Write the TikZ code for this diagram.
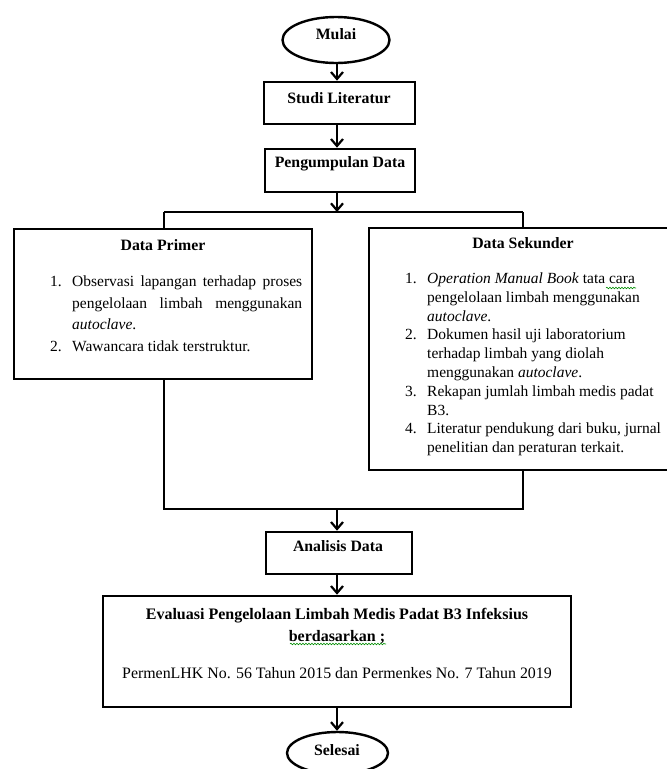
\documentclass[tikz,border=0pt]{standalone}
\usepackage{fontspec}
\setmainfont{Liberation Serif}
\usetikzlibrary{arrows.meta,shapes.geometric,decorations.pathmorphing}
\begin{document}
\begin{tikzpicture}[x=1pt,y=-1pt,
  box/.style={draw,line width=2.6pt,rectangle,inner sep=0pt},
  term/.style={draw,line width=2.4pt,ellipse,inner sep=0pt},
  conn/.style={line width=2.2pt},
  arr/.style={line width=2.2pt,-{Straight Barb[length=7pt,width=12pt,line width=2.2pt]}},
  ttl/.style={font=\fontsize{15.8}{18}\selectfont\bfseries,inner sep=0pt},
  lst/.style={inner sep=0pt,align=left,anchor=north west},
  squig/.style={draw=green!55!black,line width=0.6pt,decorate,decoration={snake,amplitude=0.8pt,segment length=3pt}},
]
\useasboundingbox (0,0) rectangle (667,769);
% terminals and boxes
\node[term,minimum width=107pt,minimum height=46pt] (mulai) at (336,40) {};
\node[ttl] (mulaiT) at (336,34) {Mulai};
\node[box,minimum width=151pt,minimum height=42pt] (studi) at (339.5,103) {};
\node[ttl] (studiT) at (339,98) {Studi Literatur};
\node[box,minimum width=150pt,minimum height=43pt] (kumpul) at (340,170.5) {};
\node[ttl] (kumpulT) at (340,164) {Pengumpulan Data};
\coordinate (j0) at (337,212);
\coordinate (jl) at (164,212);
\coordinate (jr) at (523,212);
% data primer
\node[box,minimum width=298pt,minimum height=150pt] (primer) at (163,304) {};
\node[ttl] (primerT) at (163,245) {Data Primer};
\node[lst,font=\fontsize{15.5}{21.5}\selectfont] (primerL) at (50,276) {%
\makebox[22pt][l]{1.}\makebox[230pt][s]{Observasi lapangan terhadap proses}\\
\hspace*{22pt}\makebox[230pt][s]{pengelolaan limbah menggunakan}\\
\hspace*{22pt}\textit{autoclave}.\\
\makebox[22pt][l]{2.}Wawancara tidak terstruktur.};
% data sekunder
\node[box,minimum width=308pt,minimum height=242pt] (sekunder) at (523,349) {};
\node[ttl] (sekunderT) at (523,243) {Data Sekunder};
\node[lst,font=\fontsize{15.5}{18.8}\selectfont] (sekunderL) at (405,272.5) {%
\makebox[22pt][l]{1.}\textit{Operation Manual Book} tata cara\\
\hspace*{22pt}pengelolaan limbah menggunakan\\
\hspace*{22pt}\textit{autoclave}.\\
\makebox[22pt][l]{2.}Dokumen hasil uji laboratorium\\
\hspace*{22pt}terhadap limbah yang diolah\\
\hspace*{22pt}menggunakan \textit{autoclave}.\\
\makebox[22pt][l]{3.}Rekapan jumlah limbah medis padat\\
\hspace*{22pt}B3.\\
\makebox[22pt][l]{4.}Literatur pendukung dari buku, jurnal\\
\hspace*{22pt}penelitian dan peraturan terkait.};
\coordinate (ml) at (164,509);
\coordinate (mr) at (523,509);
\coordinate (m0) at (337,509);
% analisis
\node[box,minimum width=146pt,minimum height=42pt] (analisis) at (339,553) {};
\node[ttl] (analisisT) at (338,546) {Analisis Data};
% evaluasi
\node[box,minimum width=468pt,minimum height=111pt] (evaluasi) at (337,651.5) {};
\node[ttl,align=center,font=\fontsize{16}{22}\selectfont\bfseries] (evaluasiT) at (337,626) {Evaluasi Pengelolaan Limbah Medis Padat B3 Infeksius\\berdasarkan ;};
\node[inner sep=0pt,font=\fontsize{15.9}{18}\selectfont] (evaluasiR) at (337,673) {PermenLHK No. 56 Tahun 2015 dan Permenkes No. 7 Tahun 2019};
% selesai
\node[term,minimum width=101pt,minimum height=42pt] (selesai) at (337.5,753) {};
\node[ttl] (selesaiT) at (337,750) {Selesai};
% spell-check marks
\path[squig] (606,288) -- (636,288);
\path[squig] (290,644) -- (386,644);
% connectors
\draw[arr] (mulai.south -| j0) -- (j0 |- studi.north);
\draw[arr] (studi.south -| j0) -- (j0 |- kumpul.north);
\draw[arr] (kumpul.south -| j0) -- (j0);
\draw[conn] (jl) -- (jr);
\draw[conn] (jl) -- (jl |- primer.north);
\draw[conn] (jr) -- (jr |- sekunder.north);
\draw[conn] (primer.south -| ml) -- (ml) -- (mr) -- (sekunder.south -| mr);
\draw[arr] (m0) -- (m0 |- analisis.north);
\draw[arr] (analisis.south -| m0) -- (m0 |- evaluasi.north);
\draw[arr] (evaluasi.south -| m0) -- (m0 |- selesai.north);
\end{tikzpicture}
\end{document}
